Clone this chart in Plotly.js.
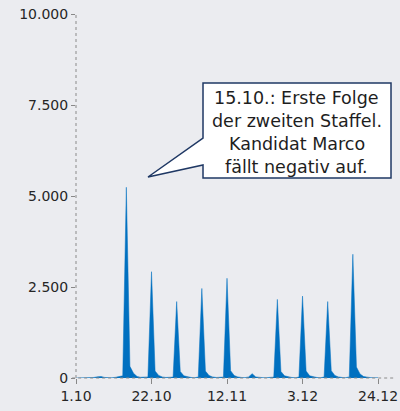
<!DOCTYPE html>
<html>
<head>
<meta charset="utf-8">
<script src="https://cdn.plot.ly/plotly-3.0.1.min.js"></script>
<style>
html,body{margin:0;padding:0;background:#ebecf0;}
#chart{width:400px;height:411px;}
</style>
</head>
<body>
<div id="chart"></div>
<script>
// Daily values starting 1.10.2015
const startDate = '2015-10-01';
const dailyValues = [
  0, 0, 0, 0, 0, 15, 35, 40, 15, 5, 5, 20, 30, 60,
  5240, 320, 130, 40, 20, 15, 30,
  2920, 190, 70, 30, 15, 10, 25,
  2100, 180, 60, 30, 15, 10, 25,
  2460, 190, 70, 30, 15, 10, 25,
  2740, 200, 70, 30, 15, 10, 30,
  120, 30, 10, 10, 10, 10, 25,
  2160, 180, 60, 30, 15, 10, 25,
  2250, 190, 60, 30, 15, 10, 25,
  2100, 200, 70, 30, 15, 10, 30,
  3400, 300, 110, 40, 20, 10, 5, 5
];
const tickDates = ['2015-10-01', '2015-10-22', '2015-11-12', '2015-12-03', '2015-12-24'];
const tickLabels = ['1.10', '22.10', '12.11', '3.12', '24.12'];
const yTicks = [0, 2500, 5000, 7500, 10000];
const calloutLines = ['15.10.: Erste Folge', 'der zweiten Staffel.', 'Kandidat Marco', 'fällt negativ auf.'];

// build date strings
const dates = [];
const d0 = new Date(startDate + 'T00:00:00Z');
for (let i = 0; i < dailyValues.length; i++) {
  const d = new Date(d0.getTime() + i * 86400000);
  dates.push(d.toISOString().slice(0, 10));
}

const trace = {
  x: dates,
  y: dailyValues,
  type: 'scatter',
  mode: 'lines',
  fill: 'tozeroy',
  fillcolor: '#0070c0',
  line: {color: '#0070c0', width: 0.5},
  hoverinfo: 'x+y'
};

const W = 320, H = 364, L = 76, T = 14;
function px(x) { return ((x - L) / W).toFixed(4); }
function py(y) { return ((T + H - y) / H).toFixed(4); }

const calloutPath = 'M ' + px(203) + ',' + py(83) +
  ' L ' + px(391) + ',' + py(83) +
  ' L ' + px(391) + ',' + py(178) +
  ' L ' + px(203) + ',' + py(178) +
  ' L ' + px(203) + ',' + py(165) +
  ' L ' + px(148) + ',' + py(177) +
  ' L ' + px(203) + ',' + py(138) + ' Z';

const lineCenters = [98, 121, 144, 167];
const annotations = calloutLines.map((t, i) => ({
  xref: 'paper', yref: 'paper',
  x: parseFloat(px(297)), y: parseFloat(py(lineCenters[i])),
  xanchor: 'center', yanchor: 'middle',
  text: t, showarrow: false,
  font: {family: 'DejaVu Sans', size: 17.5, color: '#1e1e1e'}
}));

const layout = {
  width: 400, height: 411,
  margin: {l: L, r: 4, t: T, b: 33},
  paper_bgcolor: '#ebecf0',
  plot_bgcolor: '#ebecf0',
  showlegend: false,
  separators: ',.',
  font: {family: 'DejaVu Sans', size: 14, color: '#262626'},
  xaxis: {
    type: 'date',
    range: ['2015-10-01', '2015-12-29'],
    tickmode: 'array',
    tickvals: tickDates,
    ticktext: tickLabels,
    showgrid: false, zeroline: false, showline: false,
    ticks: 'outside', ticklen: 5, tickcolor: '#888', tickwidth: 1,
    tickfont: {family: 'DejaVu Sans', size: 14, color: '#262626'}
  },
  yaxis: {
    range: [0, 10000],
    tickmode: 'array',
    tickvals: yTicks,
    tickformat: ',d',
    showgrid: false, zeroline: false, showline: false,
    ticks: 'outside', ticklen: 4, tickcolor: '#888', tickwidth: 1,
    tickfont: {family: 'DejaVu Sans', size: 14, color: '#262626'}
  },
  shapes: [
    {type: 'line', xref: 'paper', yref: 'paper', x0: -0.012, x1: 1, y0: 0, y1: 0,
     line: {color: '#8a8a8a', width: 1, dash: 'dot'}, layer: 'above'},
    {type: 'line', xref: 'paper', yref: 'paper', x0: 0, x1: 0, y0: 0, y1: 1,
     line: {color: '#8a8a8a', width: 1, dash: 'dot'}, layer: 'above'},
    {type: 'path', xref: 'paper', yref: 'paper', path: calloutPath,
     fillcolor: '#ffffff', line: {color: '#1f3864', width: 1.5}, layer: 'above'}
  ],
  annotations: annotations
};

Plotly.newPlot('chart', [trace], layout, {displayModeBar: false, staticPlot: true});
</script>
</body>
</html>
